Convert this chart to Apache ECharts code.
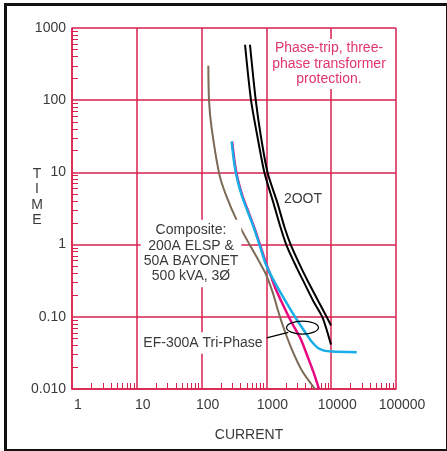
<!DOCTYPE html>
<html>
<head>
<meta charset="utf-8">
<script src="https://cdn.jsdelivr.net/npm/echarts@6/dist/echarts.min.js"></script>
<style>
html,body{margin:0;padding:0;background:#fff;}
#frame{position:absolute;left:4px;top:3px;width:439px;height:443px;border:3px solid #111;box-sizing:content-box;}
#chart{position:absolute;left:0;top:0;width:447px;height:451px;}
</style>
</head>
<body>
<div id="chart"></div>
<div id="frame" style="pointer-events:none"></div>
<script>
// ---- data (current in A, time in s) ----
const xTickLabels = ['1', '10', '100', '1000', '10000', '100000'];
const yTickLabels = ['0.010', '0.10', '1', '10', '100', '1000'];

const brownCurrent = [127, 130, 142, 186, 238, 365, 558, 755, 985, 1265, 1510, 1836, 2440, 3543, 5623];
const brownTime    = [299, 101, 42.6, 9.78, 4.84, 1.98, 0.978, 0.605, 0.387, 0.211, 0.122, 0.071, 0.0363, 0.0179, 0.01];

const cyanCurrent = [291, 322, 358, 420, 520, 644, 797, 968, 1137, 1442, 2057, 2935, 3942, 5053, 6255, 7743, 10287, 24760];
const cyanTime    = [26.6, 12.6, 7.82, 4.69, 2.81, 1.68, 0.947, 0.55, 0.399, 0.268, 0.155, 0.0917, 0.0615, 0.0447, 0.0369, 0.034, 0.033, 0.0322];

const magentaCurrent = [296, 328, 364, 428, 529, 656, 811, 990, 1178, 1382, 1823, 2457, 3359, 4385, 5428, 6479];
const magentaTime    = [26.6, 12.6, 7.82, 4.69, 2.81, 1.68, 0.947, 0.55, 0.363, 0.247, 0.1435, 0.0833, 0.05, 0.0272, 0.0163, 0.01];

const blackLeftCurrent = [468, 578, 729, 935, 1287, 1651, 2043, 2914, 3737, 5332, 7339, 9929];
const blackLeftTime    = [586, 101, 30.9, 9.78, 3.75, 1.74, 0.978, 0.484, 0.309, 0.163, 0.0978, 0.0412];

const blackRightCurrent = [558, 684, 825, 1047, 1483, 1902, 2397, 3420, 4385, 6368, 8612, 9929];
const blackRightTime    = [586, 101, 30.9, 9.78, 3.75, 1.74, 0.978, 0.484, 0.309, 0.163, 0.0978, 0.0757];

const ellipseCenter = [3606, 0.071];
const leaderStart = [1011, 0.051];
const leaderEnd = [2178, 0.061];

function zip(a, b) { return a.map((v, i) => [v, b[i]]); }

const RED = '#d8204f';
const TXT = '#3a3a3a';
const FONT = '"Liberation Sans", Arial, sans-serif';

const chart = echarts.init(document.getElementById('chart'), null, {renderer: 'canvas'});

function lineSeries(name, data, color, width, z) {
  return {
    name: name, type: 'line', data: data, showSymbol: false, symbol: 'none',
    smooth: 0.25, z: z,
    lineStyle: {color: color, width: width},
    emphasis: {disabled: true}
  };
}

const option = {
  animation: false,
  grid: {left: 72, right: 51, top: 28, bottom: 62, containLabel: false},
  xAxis: {
    type: 'log', logBase: 10, min: 1, max: 100000,
    axisLine: {show: true, lineStyle: {color: RED, width: 1.5}},
    axisTick: {show: false, inside: true},
    minorTick: {show: true, splitNumber: 9, length: 6, lineStyle: {color: RED, width: 1}},
    splitLine: {show: true, lineStyle: {color: RED, width: 1.5}},
    axisLabel: {
      color: TXT, fontSize: 14, fontFamily: FONT, margin: 9,
      padding: [0, 0, 0, 12],
      formatter: function (v) { const e = Math.round(Math.log10(v)); return xTickLabels[e] || ''; }
    }
  },
  yAxis: {
    type: 'log', logBase: 10, min: 0.01, max: 1000,
    axisLine: {show: true, lineStyle: {color: RED, width: 1.5}},
    axisTick: {show: false, inside: true},
    minorTick: {show: true, splitNumber: 9, length: 6, lineStyle: {color: RED, width: 1}},
    splitLine: {show: true, lineStyle: {color: RED, width: 1.5}},
    axisLabel: {
      color: TXT, fontSize: 14, fontFamily: FONT, margin: 6,
      padding: [0, 0, 8, 0],
      formatter: function (v) { const e = Math.round(Math.log10(v)) + 2; return yTickLabels[e] || ''; }
    }
  },
  series: [
    lineSeries('brown', zip(brownCurrent, brownTime), '#7b6a56', 2, 3),
    lineSeries('magenta', zip(magentaCurrent, magentaTime), '#e8087f', 2.5, 4),
    lineSeries('cyan', zip(cyanCurrent, cyanTime), '#1aaee6', 2.5, 5),
    lineSeries('blackL', zip(blackLeftCurrent, blackLeftTime), '#000', 2, 6),
    lineSeries('blackR', zip(blackRightCurrent, blackRightTime), '#000', 2, 6)
  ]
};
chart.setOption(option);

const c = chart.convertToPixel({gridIndex: 0}, ellipseCenter);
const ls = chart.convertToPixel({gridIndex: 0}, leaderStart);
const le = chart.convertToPixel({gridIndex: 0}, leaderEnd);

function txt(x, y, text, color, extra) {
  return {
    type: 'text', x: x, y: y, z: 10,
    style: Object.assign({
      text: text, fill: color, font: '14px ' + FONT, align: 'center', verticalAlign: 'middle', lineHeight: 15.4
    }, extra || {})
  };
}

chart.setOption({
  graphic: [
    txt(329, 64, 'Phase-trip, three-\nphase transformer\nprotection.', '#e0356d', {backgroundColor: '#fff', padding: [2, 2]}),
    txt(303, 199, '2OOT', TXT),
    txt(191, 253.5, 'Composite:\n200A ELSP &\n50A BAYONET\n500 kVA, 3Ø', TXT, {backgroundColor: '#fff', padding: [3, 3]}),
    txt(203, 343, 'EF-300A Tri-Phase', TXT, {backgroundColor: '#fff', padding: [3, 2]}),
    txt(37, 197, 'T\nI\nM\nE', TXT, {lineHeight: 15.5}),
    txt(249, 435, 'CURRENT', TXT),
    {type: 'ellipse', z: 10, shape: {cx: c[0], cy: c[1], rx: 16, ry: 6.5}, style: {fill: 'none', stroke: '#000', lineWidth: 1.2}},
    {type: 'line', z: 10, shape: {x1: ls[0], y1: ls[1], x2: le[0], y2: le[1]}, style: {stroke: '#000', lineWidth: 1.2}}
  ]
});
</script>
</body>
</html>
